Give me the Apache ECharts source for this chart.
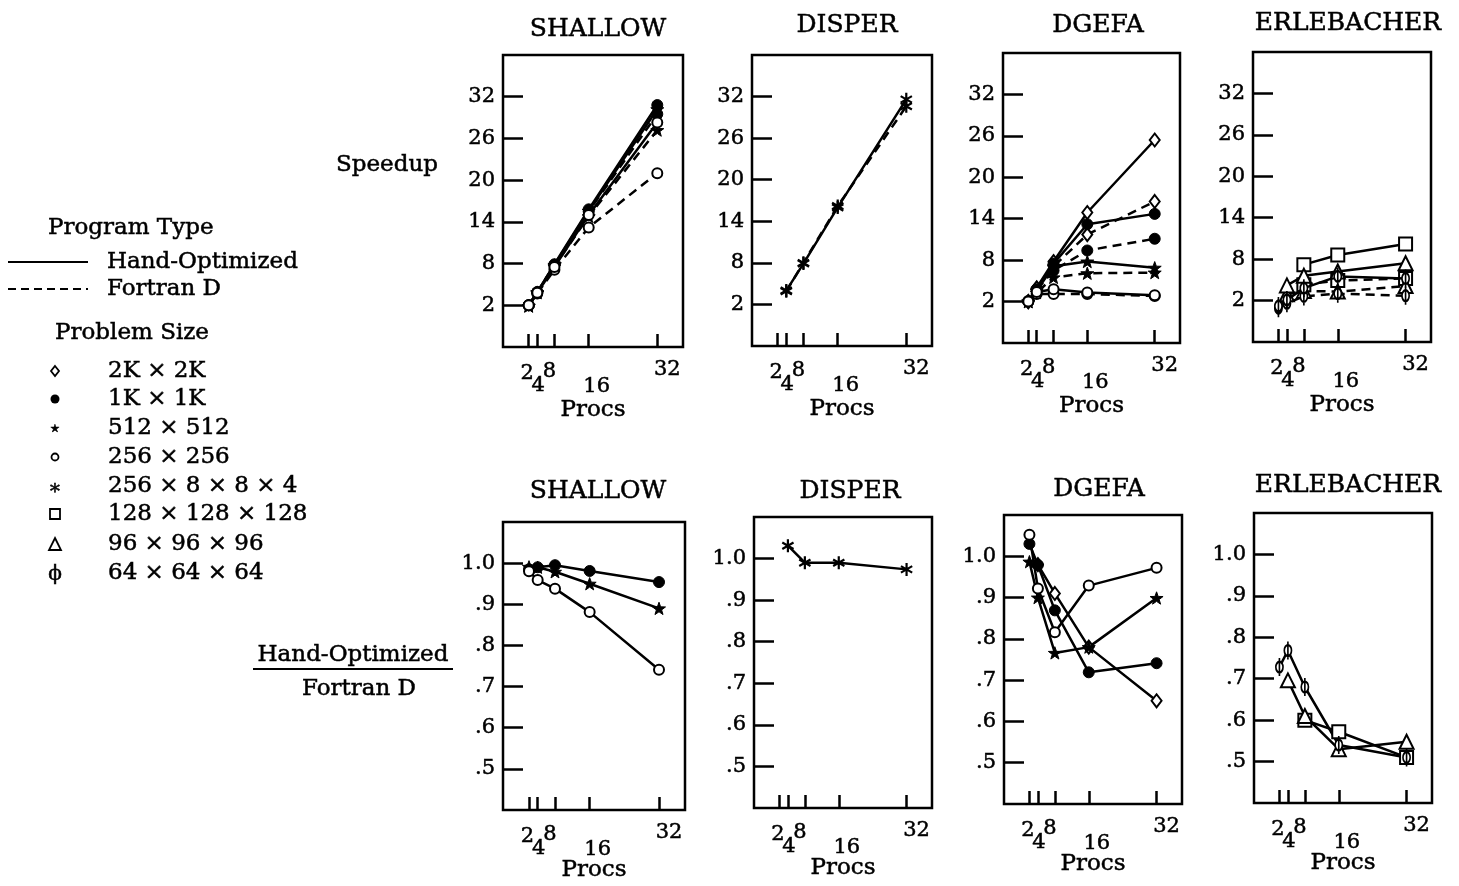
<!DOCTYPE html>
<html>
<head>
<meta charset="utf-8">
<script src="https://cdn.jsdelivr.net/npm/echarts@6/dist/echarts.min.js"></script>
<style>
  html, body { margin: 0; padding: 0; background: #fff; }
  #chart { width: 1459px; height: 886px; }
</style>
</head>
<body>
<div id="chart"></div>
<script>
// processors on the x axis; labels are staggered on two rows
const procs = [2, 4, 8, 16, 32];
const procsUpper = [2, 8, 32];
const procsLower = [4, 16];
const speedTicks = [2, 8, 14, 20, 26, 32];
const ratioTicks = [0.5, 0.6, 0.7, 0.8, 0.9, 1.0];
const programs = ['SHALLOW', 'DISPER', 'DGEFA', 'ERLEBACHER'];
const sizeNames = ['2K × 2K', '1K × 1K', '512 × 512', '256 × 256', '256 × 8 × 8 × 4',
  '128 × 128 × 128', '96 × 96 × 96', '64 × 64 × 64'];

// SHALLOW speedup
const shallow1KHand = [2.0, 3.9, 7.9, 15.8, 30.8];
const shallow1KFort = [2.0, 3.9, 7.8, 15.5, 29.5];
const shallow512Hand = [1.9, 3.9, 7.8, 15.6, 30.2];
const shallow512Fort = [1.9, 3.8, 7.6, 14.8, 27.2];
const shallow256Hand = [2.0, 3.8, 7.5, 15.0, 28.3];
const shallow256Fort = [2.0, 3.7, 7.1, 13.2, 21.0];
// DISPER speedup
const disperHand = [null, 4.0, 7.9, 16.0, 31.6];
const disperFort = [null, 3.9, 8.0, 16.2, 30.6];
// DGEFA speedup
const dgefa2KHand = [2.0, 4.0, 7.8, 14.9, 25.4];
const dgefa2KFort = [2.0, 3.9, 7.1, 11.7, 16.5];
const dgefa1KHand = [2.0, 3.8, 7.5, 13.2, 14.7];
const dgefa1KFort = [2.0, 3.7, 6.5, 9.4, 11.1];
const dgefa512Hand = [2.0, 3.6, 7.1, 7.8, 6.9];
const dgefa512Fort = [2.0, 3.3, 5.5, 6.1, 6.2];
const dgefa256Hand = [2.0, 3.4, 3.8, 3.3, 2.9];
const dgefa256Fort = [2.1, 3.1, 3.1, 3.1, 2.8];
// ERLEBACHER speedup
const erle128Hand = [null, null, 7.2, 8.6, 10.2];
const erle128Fort = [null, null, 4.3, 4.9, 5.2];
const erle96Hand = [null, 4.2, 5.6, 6.2, 7.4];
const erle96Fort = [null, 2.9, 3.4, 3.3, 4.1];
const erle64Hand = [1.2, 2.1, 3.8, 5.5, 5.2];
const erle64Fort = [0.9, 1.6, 2.6, 3.0, 2.7];

// Hand-Optimized / Fortran D
const shallowRatio1K = [0.985, 0.99, 0.995, 0.981, 0.954];
const shallowRatio512 = [0.991, 0.99, 0.979, 0.95, 0.89];
const shallowRatio256 = [0.98, 0.959, 0.938, 0.881, 0.741];
const disperRatio = [null, 1.031, 0.99, 0.99, 0.974];
const dgefaRatio2K = [null, 0.98, 0.91, 0.78, 0.65];
const dgefaRatio1K = [1.03, 0.979, 0.869, 0.719, 0.741];
const dgefaRatio512 = [0.987, 0.90, 0.766, 0.78, 0.899];
const dgefaRatio256 = [1.052, 0.922, 0.816, 0.929, 0.972];
const erleRatio128 = [null, null, 0.60, 0.572, 0.51];
const erleRatio96 = [null, 0.696, 0.61, 0.53, 0.548];
const erleRatio64 = [0.728, 0.768, 0.68, 0.54, 0.51];

const FONT = 'DejaVu Serif';
const INK = '#000';
const HEAVY = 0.5; // scanned print looks a bit heavier than the font

const STAR = 'path://M0,-10L2.35,-3.24L9.51,-3.09L3.8,1.24L5.88,8.09L0,4L-5.88,8.09L-3.8,1.24L-9.51,-3.09L-2.35,-3.24Z';
const ASTER = 'path://M0,-10L0,10M-8.66,-5L8.66,5M-8.66,5L8.66,-5';
const PHI = 'path://M0,-10L0,10M6,0A6,6,0,1,1,-6,0A6,6,0,1,1,6,0Z';

// marker per problem size
const marks = {
  '2K': { symbol: 'diamond', symbolSize: [10, 13], fill: '#fff', bw: 2 },
  '1K': { symbol: 'circle', symbolSize: 11, fill: INK, bw: 1 },
  '512': { symbol: STAR, symbolSize: 13, fill: INK, bw: 1 },
  '256': { symbol: 'circle', symbolSize: 10, fill: '#fff', bw: 2 },
  'A': { symbol: ASTER, symbolSize: 13, fill: INK, bw: 2.2 },
  '128': { symbol: 'rect', symbolSize: 13, fill: '#fff', bw: 2 },
  '96': { symbol: 'triangle', symbolSize: 14, fill: '#fff', bw: 2 },
  '64': { symbol: PHI, symbolSize: [12, 18], fill: '#fff', bw: 2 }
};

const boxes = [
  [503, 55, 180, 292], [752, 55, 180, 291], [1003, 53, 177, 290], [1253, 52, 178, 290],
  [503, 522, 182, 288], [754, 517, 178, 291], [1004, 515, 178, 289], [1254, 513, 178, 290]
];

function pts(vals) {
  return procs.map((p, i) => [p, vals[i]]).filter(d => d[1] != null);
}

function line(g, size, vals, dashed) {
  const m = marks[size];
  return {
    type: 'line', xAxisIndex: g, yAxisIndex: g, data: pts(vals),
    symbol: m.symbol, symbolSize: m.symbolSize, symbolKeepAspect: true,
    itemStyle: { color: m.fill, borderColor: INK, borderWidth: m.bw },
    lineStyle: { color: INK, width: 2.5, type: dashed ? [9, 6] : 'solid' },
    emphasis: { disabled: true }, z: dashed ? 2 : 3
  };
}

const series = [
  line(0, '1K', shallow1KFort, true), line(0, '512', shallow512Fort, true), line(0, '256', shallow256Fort, true),
  line(0, '1K', shallow1KHand), line(0, '512', shallow512Hand), line(0, '256', shallow256Hand),
  line(1, 'A', disperFort, true), line(1, 'A', disperHand),
  line(2, '2K', dgefa2KFort, true), line(2, '1K', dgefa1KFort, true), line(2, '512', dgefa512Fort, true), line(2, '256', dgefa256Fort, true),
  line(2, '2K', dgefa2KHand), line(2, '1K', dgefa1KHand), line(2, '512', dgefa512Hand), line(2, '256', dgefa256Hand),
  line(3, '128', erle128Fort, true), line(3, '96', erle96Fort, true), line(3, '64', erle64Fort, true),
  line(3, '128', erle128Hand), line(3, '96', erle96Hand), line(3, '64', erle64Hand),
  line(4, '1K', shallowRatio1K), line(4, '512', shallowRatio512), line(4, '256', shallowRatio256),
  line(5, 'A', disperRatio),
  line(6, '2K', dgefaRatio2K), line(6, '1K', dgefaRatio1K), line(6, '512', dgefaRatio512), line(6, '256', dgefaRatio256),
  line(7, '128', erleRatio128), line(7, '96', erleRatio96), line(7, '64', erleRatio64)
];

const tickFont = { fontFamily: FONT, fontSize: 21, color: INK, textBorderColor: INK, textBorderWidth: HEAVY };
// small nudges of the staggered x labels
const xRich = {
  p2: Object.assign({ padding: [4, 3, 0, 0] }, tickFont),
  p4: Object.assign({ padding: [0, 0, 0, 2] }, tickFont),
  p8: Object.assign({ padding: [2, 10, 0, 0] }, tickFont),
  p16: Object.assign({ padding: [1, 0, 0, 16] }, tickFont),
  p32: Object.assign({ padding: [0, 0, 0, 20] }, tickFont)
};

const grid = boxes.map(b => ({
  left: b[0], top: b[1], width: b[2], height: b[3],
  show: true, borderColor: INK, borderWidth: 2.5, backgroundColor: 'transparent'
}));

function procAxis(i, values, margin, withName) {
  return {
    gridIndex: i, type: 'value', position: 'bottom', offset: 0, min: -4, max: 38,
    axisLine: { show: false, onZero: false }, splitLine: { show: false },
    axisTick: { show: true, inside: true, length: 13, customValues: values, lineStyle: { color: INK, width: 2.5 } },
    axisLabel: {
      customValues: values, margin: margin, hideOverlap: false, showMinLabel: true, showMaxLabel: true,
      formatter: v => '{p' + v + '|' + v + '}',
      rich: xRich, fontFamily: FONT, fontSize: 21, color: INK
    },
    name: withName ? 'Procs' : '', nameLocation: 'middle', nameGap: i < 4 ? 52 : 49, nameMoveOverlap: false,
    nameTextStyle: { fontFamily: FONT, fontSize: 23, color: INK, textBorderColor: INK, textBorderWidth: HEAVY }
  };
}

const xAxis = boxes.map((b, i) => procAxis(i, procsUpper, 12, true))
  .concat(boxes.map((b, i) => procAxis(i, procsLower, 28, false)));

const yAxis = boxes.map((b, i) => {
  const top = i < 4;
  return {
    gridIndex: i, type: 'value',
    min: top ? -4 : 0.4, max: top ? 38 : 1.1, interval: top ? 6 : 0.1,
    axisLine: { show: false, onZero: false }, splitLine: { show: false },
    axisTick: { show: true, inside: true, length: 20, customValues: top ? speedTicks : ratioTicks, lineStyle: { color: INK, width: 2.5 } },
    axisLabel: {
      customValues: top ? speedTicks : ratioTicks, margin: 8, showMinLabel: true, showMaxLabel: true,
      formatter: v => top ? String(v) : (v > 0.99 ? '1.0' : '.' + Math.round(v * 10)),
      fontFamily: FONT, fontSize: 21, color: INK, textBorderColor: INK, textBorderWidth: HEAVY
    }
  };
});

const titleCenters = [[593, 12], [842, 8], [1093, 8], [1343, 6], [593, 474], [845, 474], [1094, 472], [1343, 468]];
const title = titleCenters.map((c, i) => ({
  text: programs[i % 4], left: c[0], top: c[1], textAlign: 'center',
  textStyle: { fontFamily: FONT, fontSize: 25, fontWeight: 'normal', color: INK, textBorderColor: INK, textBorderWidth: HEAVY }
}));

function txt(x, y, s, size, align) {
  return {
    type: 'text', x: x, y: y,
    style: {
      text: s, fontFamily: FONT, fontSize: size || 23, fill: INK, stroke: INK, lineWidth: HEAVY,
      align: align || 'left', verticalAlign: 'middle'
    }
  };
}

const legendRows = [371, 399, 428, 457, 486, 514, 544, 573];
const graphic = [
  txt(387, 165, 'Speedup', 23, 'center'),
  txt(353, 655, 'Hand-Optimized', 23, 'center'),
  { type: 'line', shape: { x1: 253, y1: 669, x2: 453, y2: 669 }, style: { stroke: INK, lineWidth: 2 } },
  txt(359, 689, 'Fortran D', 23, 'center'),
  txt(48, 228, 'Program Type', 23),
  { type: 'line', shape: { x1: 8, y1: 262, x2: 88, y2: 262 }, style: { stroke: INK, lineWidth: 2 } },
  txt(107, 262, 'Hand-Optimized', 23),
  { type: 'line', shape: { x1: 8, y1: 289, x2: 88, y2: 289 }, style: { stroke: INK, lineWidth: 2, lineDash: [8, 5] } },
  txt(107, 289, 'Fortran D', 23),
  txt(55, 333, 'Problem Size', 23),
  { type: 'polygon', shape: { points: [[55, 366], [59, 371], [55, 376], [51, 371]] }, style: { fill: '#fff', stroke: INK, lineWidth: 1.8 } },
  { type: 'circle', shape: { cx: 55, cy: 399, r: 4.5 }, style: { fill: INK } },
  txt(55, 429, '★', 11, 'center'),
  { type: 'circle', shape: { cx: 55, cy: 457, r: 3.5 }, style: { fill: '#fff', stroke: INK, lineWidth: 1.8 } },
  txt(55, 489, '∗', 20, 'center'),
  { type: 'rect', shape: { x: 50, y: 509, width: 10, height: 10 }, style: { fill: '#fff', stroke: INK, lineWidth: 1.8 } },
  { type: 'polygon', shape: { points: [[55, 538], [61, 550], [49, 550]] }, style: { fill: '#fff', stroke: INK, lineWidth: 1.8 } },
  txt(55, 575, 'ϕ', 20, 'center')
].concat(legendRows.map((y, i) => txt(108, y, sizeNames[i], 23)));

const chart = echarts.init(document.getElementById('chart'), null, { renderer: 'canvas' });
chart.setOption({
  animation: false,
  backgroundColor: '#fff',
  title: title,
  grid: grid,
  xAxis: xAxis,
  yAxis: yAxis,
  series: series,
  graphic: graphic
});
</script>
</body>
</html>
